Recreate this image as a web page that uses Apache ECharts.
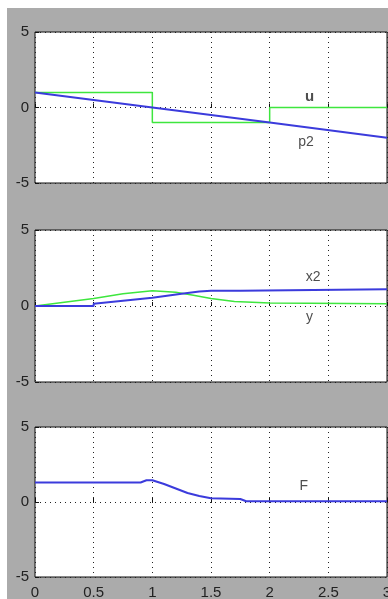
<!DOCTYPE html>
<html><head><meta charset="utf-8">
<script src="https://cdn.jsdelivr.net/npm/echarts@6/dist/echarts.min.js"></script>
<style>html,body{margin:0;padding:0;background:#fff}#c{width:388px;height:599px}</style>
</head><body><div id="c"></div>
<script>
// Panel 1
const uT = [0, 1, 1, 2, 2, 3];
const uV = [1, 1, -1, -1, 0, 0];
const p2T = [0, 1, 2, 3];
const p2V = [1, 0, -1, -2];
// Panel 2
const x2T = [0, 0.5, 0.5, 0.75, 1.0, 1.25, 1.4, 1.5, 1.75, 1.75, 3];
const x2V = [0, 0, 0.15, 0.35, 0.55, 0.8, 0.95, 1.0, 1.0, 1.1, 1.1];
const yT = [0, 0.25, 0.5, 0.75, 1.0, 1.2, 1.35, 1.5, 1.7, 2.0, 3];
const yV = [0, 0.25, 0.5, 0.8, 1.0, 0.9, 0.7, 0.5, 0.3, 0.2, 0.15];
// Panel 3
const fT = [0, 0.9, 0.95, 1.0, 1.1, 1.2, 1.3, 1.4, 1.5, 1.75, 1.8, 3];
const fV = [1.3, 1.3, 1.45, 1.45, 1.2, 0.9, 0.6, 0.4, 0.25, 0.2, 0.05, 0.05];
// Axis ticks
const xMin = 0, xMax = 3, xStep = 0.5;
const yMin = -5, yMax = 5, yStep = 5;
// Annotations [t, value, text]
const labels1 = [[2.34, 0.7, 'u'], [2.31, -2.3, 'p2']];
const labels2 = [[2.37, 1.9, 'x2'], [2.34, -0.75, 'y']];
const labels3 = [[2.29, 1.07, 'F']];

const zip = (a, b) => a.map((v, i) => [v, b[i]]);
const BLUE = '#3b3bdc', GREEN = '#3ee63e';
const tops = [32, 230, 427], heights = [151, 152, 150];

const grids = tops.map((t, i) => ({
  left: 35, right: 1, top: t, height: heights[i], containLabel: false, outerBoundsMode: 'none',
  show: true, backgroundColor: '#fff', borderColor: '#111', borderWidth: 1
}));
const xAxes = tops.map((t, i) => ({
  type: 'value', gridIndex: i, min: xMin, max: xMax, interval: xStep,
  axisLine: { show: false },
  axisTick: { show: true, inside: true, length: 4, lineStyle: { color: '#111' } },
  axisLabel: { show: i === 2, color: '#222', fontSize: 15, fontFamily: 'Liberation Sans', margin: 8,
    formatter: v => String(v) },
  splitLine: { show: true, lineStyle: { color: '#222', type: [1, 4], width: 1 } }
}));
const yAxes = tops.map((t, i) => ({
  type: 'value', gridIndex: i, min: yMin, max: yMax, interval: yStep,
  axisLine: { show: false },
  axisTick: { show: true, inside: true, length: 4, lineStyle: { color: '#111' } },
  axisLabel: { color: '#222', fontSize: 15, fontFamily: 'Liberation Sans', margin: 6 },
  splitLine: { show: true, lineStyle: { color: '#222', type: [1, 4], width: 1 } }
}));

function line(data, color, idx, w) {
  return { type: 'line', xAxisIndex: idx, yAxisIndex: idx, data: data, showSymbol: false,
    symbol: 'none', lineStyle: { color: color, width: w }, silent: true, animation: false };
}
function lab(data, idx) {
  return { type: 'scatter', xAxisIndex: idx, yAxisIndex: idx, data: data, symbolSize: 1,
    itemStyle: { color: 'rgba(0,0,0,0)' }, silent: true, animation: false,
    label: { show: true, position: 'inside', color: '#222', fontSize: 14,
      fontFamily: 'Liberation Sans', formatter: p => p.value[2],
      fontWeight: 'normal',
      rich: {} } };
}

const chart = echarts.init(document.getElementById('c'), null, { renderer: 'canvas' });
const s1lab = lab(labels1, 0);
s1lab.label.formatter = p => p.value[2] === 'u' ? '{b|u}' : p.value[2];
s1lab.label.rich = { b: { fontWeight: 'bold', fontSize: 15, color: '#222', fontFamily: 'Liberation Sans' } };
chart.setOption({
  backgroundColor: '#fff',
  animation: false,
  graphic: [{ type: 'rect', z: -10, silent: true, shape: { x: 7, y: 8, width: 381, height: 591 },
    style: { fill: '#ababab' } }],
  grid: grids, xAxis: xAxes, yAxis: yAxes,
  series: [
    line(zip(uT, uV), GREEN, 0, 1.5),
    line(zip(p2T, p2V), BLUE, 0, 2),
    line(zip(yT, yV), GREEN, 1, 1.5),
    line(zip(x2T, x2V), BLUE, 1, 2),
    line(zip(fT, fV), BLUE, 2, 2),
    s1lab, lab(labels2, 1), lab(labels3, 2)
  ]
});
</script></body></html>
